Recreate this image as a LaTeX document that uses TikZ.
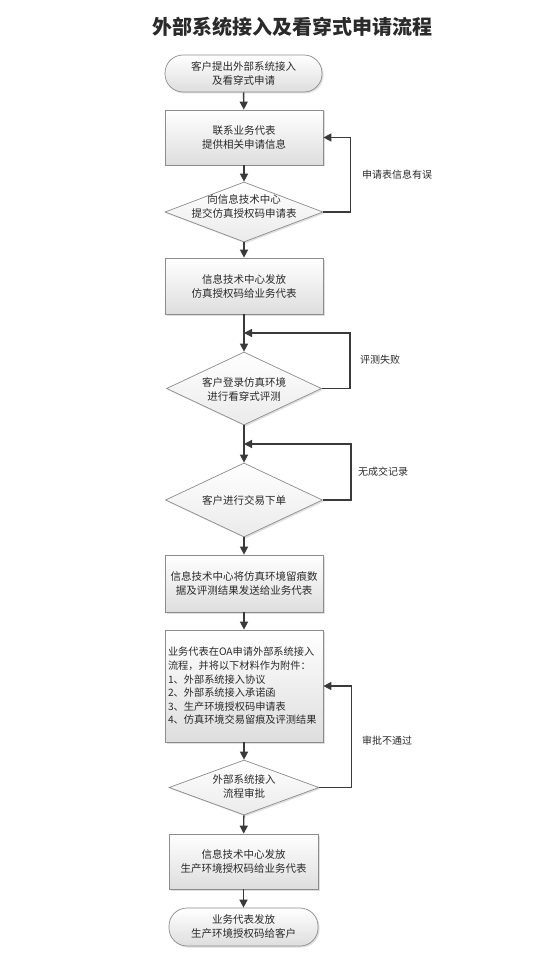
\documentclass[tikz,border=0pt]{standalone}
\usepackage{fontspec}
\setmainfont{Noto Sans CJK SC}
\usetikzlibrary{shapes.geometric,arrows.meta,shadows}
\definecolor{linec}{HTML}{3A3A3A}
\definecolor{bordc}{HTML}{8C8C8C}
\definecolor{txtc}{HTML}{2A2A2A}
\tikzset{
  base/.style={draw=bordc, line width=0.7pt, top color=white, bottom color=black!13,
    drop shadow={opacity=0.25, shadow xshift=1.5pt, shadow yshift=-1.5pt},
    text=txtc, font=\fontsize{10.5}{14}\selectfont, align=center, inner sep=0pt},
  box/.style={base, rectangle, minimum width=158pt},
  term/.style={base, rectangle, rounded corners=18pt},
  dia/.style={base, diamond, top color=white, bottom color=black!8},
  txt/.style={text=txtc, font=\fontsize{10.5}{14}\selectfont, align=center, inner sep=0pt},
  lbl/.style={text=txtc, font=\fontsize{10}{13}\selectfont, anchor=west, inner sep=0pt},
  arr/.style={draw=linec, line width=1.4pt, -{Triangle[length=8pt,width=8pt]}},
}
\begin{document}
\begin{tikzpicture}[x=1pt,y=-1pt]
\fill[white] (0,0) rectangle (540,960);
\useasboundingbox (0,0) rectangle (540,960);

\node[text=txtc, font=\fontsize{20}{24}\selectfont\bfseries, inner sep=0pt] (title) at (292,27) {外部系统接入及看穿式申请流程};

\node[term, minimum width=157pt, minimum height=37pt] (start) at (243.5,73.5) {客户提出外部系统接入\\及看穿式申请};
\node[box, minimum height=55pt] (b1) at (244,137.5) {联系业务代表\\提供相关申请信息};
\node[dia, minimum width=158pt, minimum height=60pt] (d1) at (244,212) {};
\node[txt] (d1t) at (244,206) {向信息技术中心\\提交仿真授权码申请表};
\node[box, minimum height=56pt] (b2) at (244,286) {信息技术中心发放\\仿真授权码给业务代表};
\node[dia, minimum width=155pt, minimum height=73pt] (d2) at (244,388.5) {};
\node[txt] (d2t) at (244,389) {客户登录仿真环境\\进行看穿式评测};
\node[dia, minimum width=157pt, minimum height=74pt] (d3) at (244,500) {};
\node[txt] (d3t) at (244,500) {客户进行交易下单};
\node[box, minimum height=57pt] (b3) at (244,583.5) {信息技术中心将仿真环境留痕数\\据及评测结果发送给业务代表};
\node[box, minimum height=112pt, text width=152pt, align=left, font=\fontsize{10.2}{13.6}\selectfont] (b4) at (244,686) {业务代表在OA申请外部系统接入\\流程，并将以下材料作为附件：\\1、外部系统接入协议\\2、外部系统接入承诺函\\3、生产环境授权码申请表\\4、仿真环境交易留痕及评测结果};
\node[dia, minimum width=150pt, minimum height=55pt] (d4) at (244,787.5) {};
\node[txt] (d4t) at (244,786) {外部系统接入\\流程审批};
\node[box, minimum width=149pt, minimum height=55pt] (b5) at (243.5,861.5) {信息技术中心发放\\生产环境授权码给业务代表};
\node[term, minimum width=149pt, minimum height=38pt] (end) at (243.5,927) {业务代表发放\\生产环境授权码给客户};

\coordinate (j2) at (244,333);
\coordinate (j3) at (244,444);

\draw[arr] (start) -- (b1);
\draw[arr] (b1) -- (d1);
\draw[arr] (d1.east) -- ++(27,0) |- (b1.east);
\draw[arr] (d1) -- (b2);
\draw[arr] (b2) -- (d2);
\draw[arr] (d2.east) -- ++(28,0) |- (j2);
\draw[arr] (d2) -- (d3);
\draw[arr] (d3.east) -- ++(28,0) |- (j3);
\draw[arr] (d3) -- (b3);
\draw[arr] (b3) -- (b4);
\draw[arr] (d4.east) -- ++(32,0) |- (b4.east);
\draw[arr] (b4) -- (d4);
\draw[arr] (d4) -- (b5);
\draw[arr] (b5) -- (end);

\node[lbl] (l1) at (362,175) {申请表信息有误};
\node[lbl] (l2) at (360,360) {评测失败};
\node[lbl] (l3) at (358,472) {无成交记录};
\node[lbl] (l4) at (362,741) {审批不通过};
\end{tikzpicture}
\end{document}
